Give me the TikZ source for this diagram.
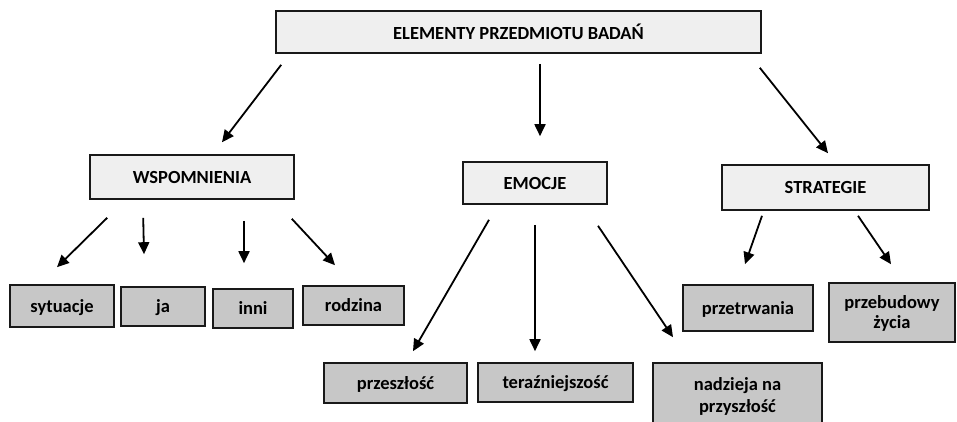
\documentclass[tikz,border=0pt]{standalone}
\usepackage{fontspec}
\setmainfont{Carlito}
\usetikzlibrary{arrows.meta}
\definecolor{jasny}{RGB}{239,239,239}
\definecolor{ciemny}{RGB}{199,199,199}
\begin{document}
\begin{tikzpicture}[x=1pt,y=-1pt,
    glowny/.style={draw=black!90,line width=1.6pt,fill=jasny,inner sep=0pt,
      font=\bfseries\fontsize{18.5}{22}\selectfont},
    szczeg/.style={draw=black!90,line width=1.6pt,fill=ciemny,inner sep=0pt,align=center,
      text depth=0pt,font=\bfseries\fontsize{18.5}{22}\selectfont},
    strz/.style={line width=1.8pt,-{Triangle[length=12pt,width=11pt]}}]
    \clip (0,0) rectangle (957,422);
    \node[glowny,minimum width=485,minimum height=42] (elementy) at (518.5,32) {ELEMENTY PRZEDMIOTU BADAŃ};
    \node[glowny,minimum width=204,minimum height=44] (wspomnienia) at (192,177) {WSPOMNIENIA};
    \node[glowny,minimum width=144,minimum height=42] (emocje) at (535,183) {EMOCJE};
    \node[glowny,minimum width=207,minimum height=45] (strategie) at (825.5,187.5) {STRATEGIE};

    \node[szczeg,minimum width=104,minimum height=42] (sytuacje) at (62,306) {sytuacje};
    \node[szczeg,minimum width=84,minimum height=39] (ja) at (163,306.5) {ja};
    \node[szczeg,minimum width=80,minimum height=39] (inni) at (253,308.5) {inni};
    \node[szczeg,minimum width=101,minimum height=39] (rodzina) at (353.5,305.5) {rodzina};
    \node[szczeg,minimum width=143,minimum height=40] (przeszlosc) at (395.5,383) {przeszłość};
    \node[szczeg,minimum width=155,minimum height=39] (terazniejszosc) at (555.5,382.5) {teraźniejszość};
    \node[szczeg,minimum width=169,minimum height=64] (nadzieja) at (737.5,395) {nadzieja na\\przyszłość};
    \node[szczeg,minimum width=130,minimum height=46] (przetrwania) at (748,308) {przetrwania};
    \node[szczeg,minimum width=126,minimum height=59,
      font=\bfseries\fontsize{18.5}{20}\selectfont] (przebudowy) at (892,312.5) {przebudowy\\życia};

    \draw[strz] ([xshift=6pt,yshift=-11pt]elementy.south west) -- ([xshift=30pt,yshift=12pt]wspomnienia.north);
    \draw[strz] ([xshift=21.5pt,yshift=-10pt]elementy.south) -- ([xshift=5pt,yshift=25pt]emocje.north);
    \draw[strz] ([xshift=-2pt,yshift=-14pt]elementy.south east) -- ([xshift=2.5pt,yshift=11pt]strategie.north);

    \draw[strz] ([xshift=18pt,yshift=-18pt]wspomnienia.south west) -- ([xshift=-5pt,yshift=17pt]sytuacje.north);
    \draw[strz] ([xshift=54pt,yshift=-18pt]wspomnienia.south west) -- ([xshift=-19pt,yshift=32pt]ja.north);
    \draw[strz] ([xshift=52pt,yshift=-21pt]wspomnienia.south) -- ([xshift=-9pt,yshift=25pt]inni.north);
    \draw[strz] ([xshift=-3pt,yshift=-19pt]wspomnienia.south east) -- ([xshift=-18.5pt,yshift=20pt]rodzina.north);

    \draw[strz] ([xshift=-46pt,yshift=-15pt]emocje.south) -- ([xshift=17.5pt,yshift=11pt]przeszlosc.north);
    \draw[strz] ([yshift=-20pt]emocje.south) -- ([xshift=-20.5pt,yshift=11pt]terazniejszosc.north);
    \draw[strz] ([xshift=63pt,yshift=-21pt]emocje.south) -- ([xshift=-64.5pt,yshift=25pt]nadzieja.north);

    \draw[strz] ([xshift=-63.5pt,yshift=-5pt]strategie.south) -- ([xshift=-3pt,yshift=20pt]przetrwania.north);
    \draw[strz] ([xshift=32.5pt,yshift=-5pt]strategie.south) -- ([xshift=-1pt,yshift=18pt]przebudowy.north);
  \end{tikzpicture}
\end{document}
